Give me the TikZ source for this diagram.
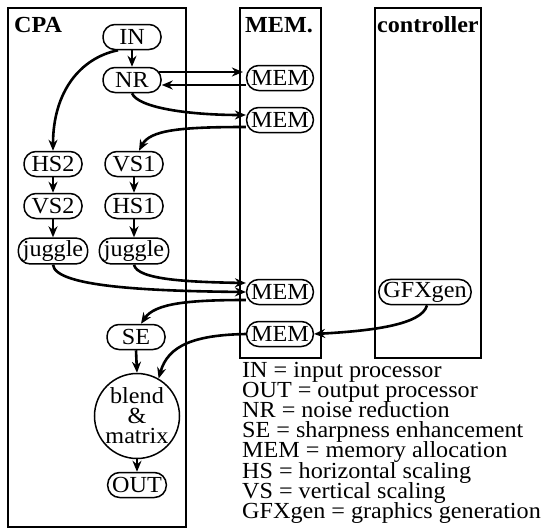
\documentclass[tikz,border=0pt]{standalone}
\usepackage{fontspec}
\setmainfont{Liberation Serif}[FakeStretch=1.05]
\usetikzlibrary{arrows.meta}
\newcommand{\figfont}{\fontsize{23}{20}\selectfont}
\begin{document}
\begin{tikzpicture}[x=1pt,y=-1pt,
  box/.style={draw,line width=1.5pt},
  proc/.style={draw,line width=1.5pt,rounded corners=12pt,minimum width=58pt,minimum height=25pt,inner xsep=4.5pt,inner ysep=2.5pt,font=\figfont},
  arr/.style={line width=2.6pt,-{Stealth[length=11pt,width=9pt]}},
  ttl/.style={anchor=base west,inner sep=0pt,font=\bfseries\figfont},
  leg/.style={anchor=base west,inner sep=0pt,font=\figfont},
]
\useasboundingbox (0,0) rectangle (542,531);
% frames
\draw[box] (8,8) rectangle (186,527);
\draw[box] (240,8) rectangle (321,358);
\draw[box] (375,8) rectangle (481,358);
\node[ttl] (tcpa) at (14,32) {CPA};
\node[ttl] (tmem) at (245,32) {MEM.};
\node[ttl] (tctl) at (377,32) {controller};
% nodes
\node[proc] (IN) at (132,37) {IN};
\node[proc] (NR) at (132,80) {NR};
\node[proc] (HS2) at (53,164) {HS2};
\node[proc] (VS1) at (134,164) {VS1};
\node[proc] (VS2) at (53,206) {VS2};
\node[proc] (HS1) at (134,206) {HS1};
\node[proc] (jugL) at (53,251) {juggle};
\node[proc] (jugR) at (134,251) {juggle};
\node[proc] (SE) at (136,337) {SE};
\node[draw,circle,line width=1.5pt,minimum size=85pt,inner sep=0pt,align=center,font=\figfont] (blend) at (137,416) {blend\\\&\\matrix};
\node[proc] (OUT) at (137,485) {OUT};
\node[proc] (MEM1) at (280,78) {MEM};
\node[proc] (MEM2) at (280,120) {MEM};
\node[proc] (MEM3) at (280,292) {MEM};
\node[proc] (MEM4) at (280,334) {MEM};
\node[proc] (GFX) at (425,292) {GFXgen};
% connectors
\draw[arr] (IN.south) -- (NR.north);
\draw[arr] ([xshift=-14pt]IN.south) .. controls (80,58) and (53,92) .. (HS2.north);
\draw[arr] ([xshift=-3pt,yshift=8pt]NR.east) -- ([xshift=-3pt,yshift=8pt]NR.east -| MEM1.west);
\draw[arr] ([yshift=-7pt]MEM1.west) -- ([yshift=-7pt]MEM1.west -| NR.east);
\draw[arr] (NR.south) .. controls (138,108) and (190,115) .. ([yshift=5pt]MEM2.west);
\draw[arr] ([yshift=-7pt]MEM2.west) .. controls (180,127) and (150,130) .. ([xshift=5pt]VS1.north);
\draw[arr] (HS2.south) -- (VS2.north);
\draw[arr] (VS2.south) -- (jugL.north);
\draw[arr] (VS1.south) -- (HS1.north);
\draw[arr] (HS1.south) -- (jugR.north);
\draw[arr] (jugL.south) .. controls (55,287) and (150,291) .. (MEM3.west);
\draw[arr] (jugR.south) .. controls (137,280) and (190,282) .. ([yshift=9pt]MEM3.west);
\draw[arr] ([yshift=-8pt]MEM3.west) .. controls (190,300) and (155,303) .. ([xshift=5pt]SE.north);
\draw[arr] ([xshift=2pt]GFX.south) .. controls (422,325) and (370,331) .. (MEM4.east);
\draw[arr] (MEM4.west) .. controls (195,335) and (168,345) .. (blend.60);
\draw[arr] (SE.south) -- (blend.north);
\draw[arr] (blend.south) -- (OUT.north);
% legend
\foreach \t [count=\i] in {IN = input processor,OUT = output processor,NR = noise reduction,SE = sharpness enhancement,MEM = memory allocation,HS = horizontal scaling,VS = vertical scaling,GFXgen = graphics generation}
  \node[leg] (leg\i) at (242,{377+(\i-1)*20.2}) {\t};
\end{tikzpicture}
\end{document}
